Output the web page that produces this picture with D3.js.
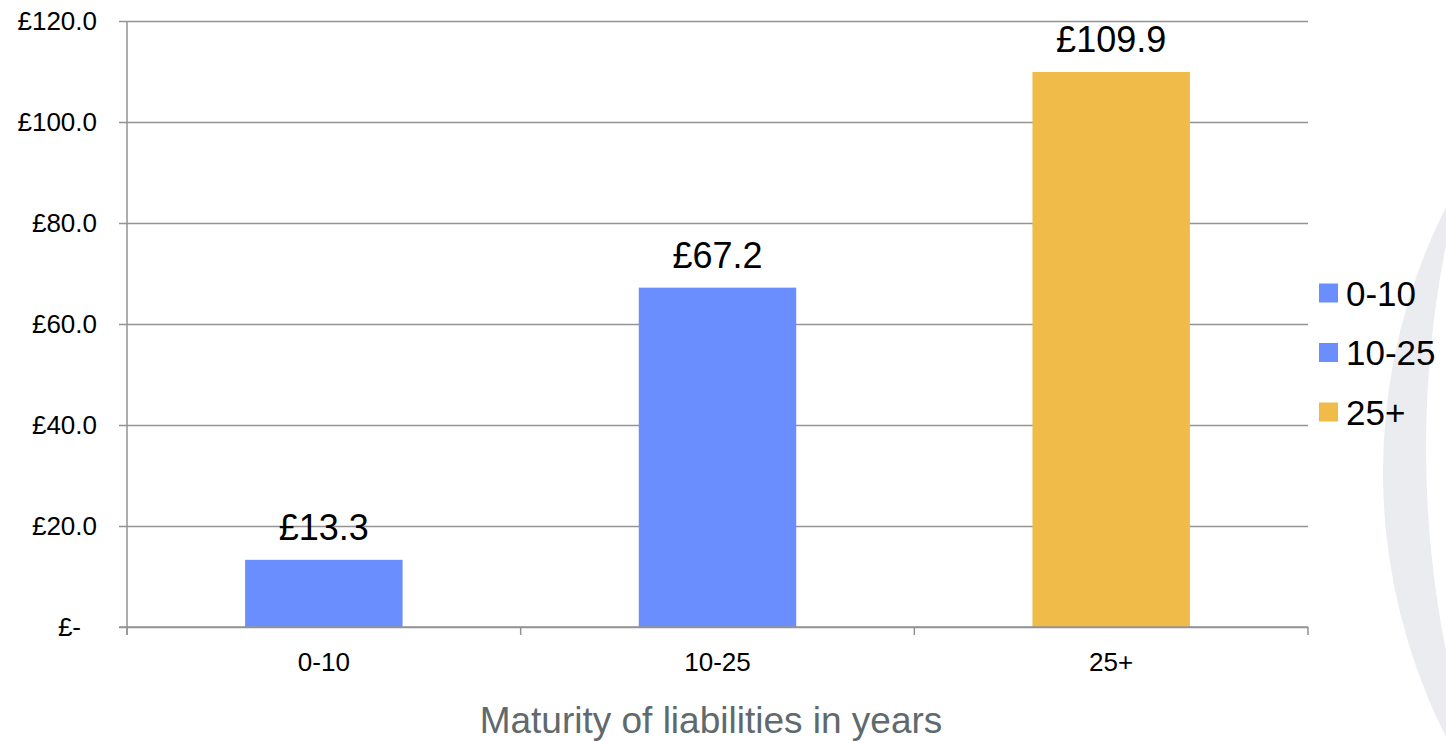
<!DOCTYPE html>
<html>
<head>
<meta charset="utf-8">
<script src="https://cdn.jsdelivr.net/npm/d3@7"></script>
<style>
  body { margin: 0; background: #fff; }
  svg { display: block; font-family: "Liberation Sans", Arial, sans-serif; }
  .grid line { stroke: #939393; stroke-width: 1.5; }
  .axis path, .axis line { stroke: #939393; stroke-width: 1.5; }
  .tick_text { font-size: 26px; fill: #000; }
  .bar_label { font-size: 36px; fill: #000; }
  .legend_text { font-size: 35px; fill: #000; }
  .axis_title { font-size: 37px; fill: #5f6a6e; }
</style>
</head>
<body>
<div id="chart"></div>
<script>
// chart data
var categories = ["0-10", "10-25", "25+"];
var values = [13.3, 67.2, 109.9];
var barColors = ["#6b8eff", "#6b8eff", "#f0bb48"];
var yTicks = [0, 20, 40, 60, 80, 100, 120];
var axisTitle = "Maturity of liabilities in years";

var width = 1446,
    height = 741;
var margin = {top: 21, right: 138, bottom: 114, left: 127};
var plotW = width - margin.left - margin.right,
    plotH = height - margin.top - margin.bottom;

var svg = d3.select("#chart")
    .append("svg")
    .attr("width", width)
    .attr("height", height);

// decorative crescent in the background, right edge
var deco = d3.path();
deco.arc(1972, 472, 589, 0, 2 * Math.PI);
deco.moveTo(2466 + 1040, 448);
deco.arc(2466, 448, 1040, 0, 2 * Math.PI);
svg.append("path")
    .attr("d", deco.toString())
    .attr("fill", "#ebecef")
    .attr("fill-rule", "evenodd");

var g = svg.append("g")
    .attr("transform", "translate(" + margin.left + "," + margin.top + ")");

var x = d3.scaleBand()
    .domain(categories)
    .range([0, plotW])
    .paddingInner(0.6)
    .paddingOuter(0.3);

var y = d3.scaleLinear()
    .domain([0, 120])
    .range([plotH, 0]);

// gridlines + y ticks
var yAxis = g.append("g")
    .attr("class", "axis grid")
    .call(d3.axisLeft(y)
        .tickValues(yTicks)
        .tickSizeInner(-plotW)
        .tickSizeOuter(0)
        .tickFormat(""));
yAxis.select(".domain").remove();
yAxis.selectAll(".tick line").attr("x1", -8);

// y axis line
g.append("line")
    .attr("class", "axisline")
    .attr("x1", 0).attr("x2", 0)
    .attr("y1", 0).attr("y2", plotH + 8)
    .attr("stroke", "#939393")
    .attr("stroke-width", 1.5);

// y tick labels (accounting style)
g.selectAll(".ylabel")
    .data(yTicks)
    .enter()
    .append("text")
    .attr("class", "tick_text ylabel")
    .attr("x", function(d) { return d === 0 ? -46 : -30; })
    .attr("y", function(d) { return y(d); })
    .attr("dy", "0.35em")
    .attr("text-anchor", "end")
    .text(function(d) { return d === 0 ? "£-" : "£" + d3.format(".1f")(d); });

// x axis ticks at the band edges
var edges = d3.range(categories.length + 1).map(function(i) { return i * x.step(); });
g.selectAll(".xtick")
    .data(edges)
    .enter()
    .append("line")
    .attr("class", "xtick")
    .attr("x1", function(d) { return d; })
    .attr("x2", function(d) { return d; })
    .attr("y1", plotH)
    .attr("y2", plotH + 8)
    .attr("stroke", "#939393")
    .attr("stroke-width", 1.5);

// bars
g.selectAll(".bar")
    .data(values)
    .enter()
    .append("rect")
    .attr("class", "bar")
    .attr("x", function(d, i) { return x(categories[i]); })
    .attr("y", function(d) { return y(d); })
    .attr("width", x.bandwidth())
    .attr("height", function(d) { return plotH - y(d); })
    .attr("fill", function(d, i) { return barColors[i]; });

// x axis line, drawn over bars
g.append("line")
    .attr("x1", -8).attr("x2", plotW)
    .attr("y1", plotH).attr("y2", plotH)
    .attr("stroke", "#939393")
    .attr("stroke-width", 1.5);

// value labels
g.selectAll(".bar_label")
    .data(values)
    .enter()
    .append("text")
    .attr("class", "bar_label")
    .attr("x", function(d, i) { return x(categories[i]) + x.bandwidth() / 2; })
    .attr("y", function(d) { return y(d) - 20; })
    .attr("text-anchor", "middle")
    .text(function(d) { return "£" + d3.format(".1f")(d); });

// category labels
g.selectAll(".xlabel")
    .data(categories)
    .enter()
    .append("text")
    .attr("class", "tick_text xlabel")
    .attr("x", function(d) { return x(d) + x.bandwidth() / 2; })
    .attr("y", plotH + 44)
    .attr("text-anchor", "middle")
    .text(function(d) { return d; });

// axis title
svg.append("text")
    .attr("class", "axis_title")
    .attr("x", 711)
    .attr("y", 733)
    .attr("text-anchor", "middle")
    .text(axisTitle);

// legend
var legend = svg.selectAll(".legend")
    .data(categories)
    .enter()
    .append("g")
    .attr("class", "legend")
    .attr("transform", function(d, i) {
        return "translate(1319," + (293 + i * 59.5) + ")";
    });
legend.append("rect")
    .attr("x", 0)
    .attr("y", -9.5)
    .attr("width", 19)
    .attr("height", 19)
    .attr("fill", function(d, i) { return barColors[i]; });
legend.append("text")
    .attr("class", "legend_text")
    .attr("x", 27)
    .attr("y", 0)
    .attr("dy", "0.36em")
    .text(function(d) { return d; });
</script>
</body>
</html>
